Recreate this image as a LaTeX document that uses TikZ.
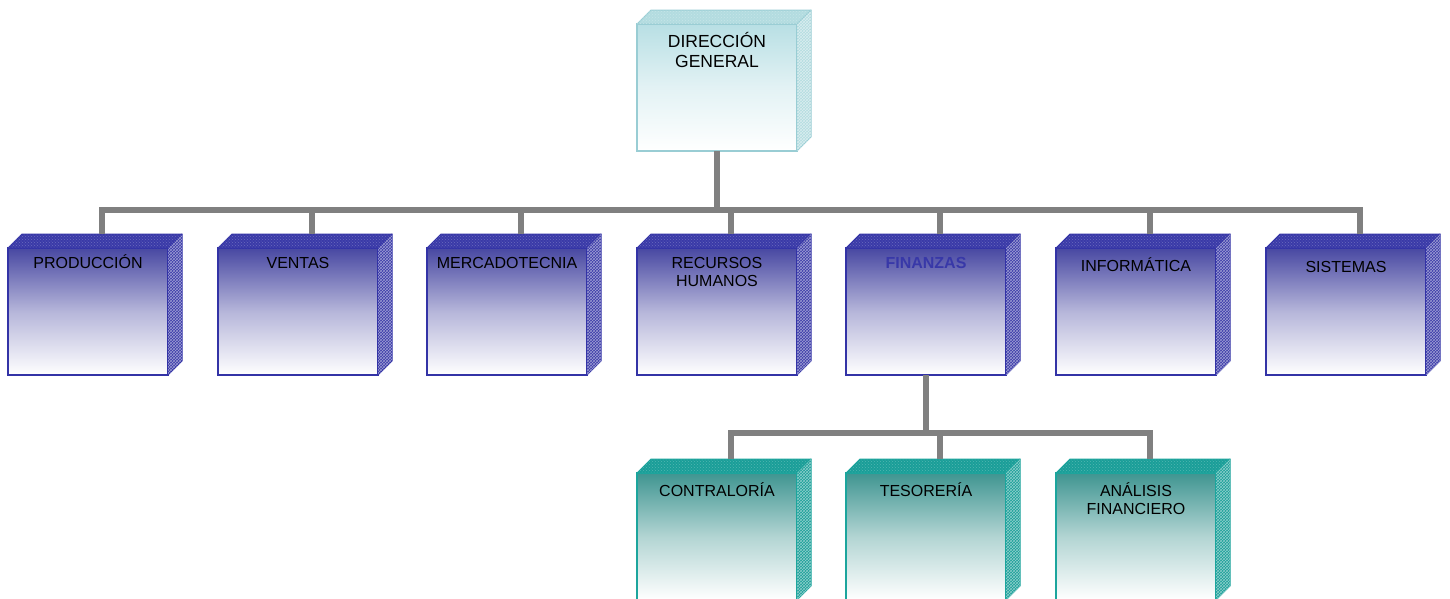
\documentclass[tikz,border=0pt]{standalone}
\usepackage{fontspec}
\setmainfont{Liberation Sans}
\usetikzlibrary{patterns}
\definecolor{bTop}{HTML}{3A3AA8}
\definecolor{bFront}{HTML}{4848A2}
\definecolor{bEdge}{HTML}{3333A6}
\definecolor{cTop}{HTML}{B3DCE0}
\definecolor{cFront}{HTML}{B8DFE4}
\definecolor{cEdge}{HTML}{99CDD4}
\definecolor{tTop}{HTML}{1A9E98}
\definecolor{tFront}{HTML}{3F9591}
\definecolor{tEdge}{HTML}{1CA59D}
\definecolor{connc}{HTML}{808080}
\definecolor{finblue}{HTML}{3838A8}
\newcommand\cubebox[4]{%
  \node[front, top color=#4Front, bottom color=white, middle color=#4Front!40!white, draw=#4Edge, anchor=north west] (#1) at (#2,#3) {};
  \filldraw[fill=#4Top, draw=#4Edge, line width=1pt, line join=round] (#1.north west) -- ++(14,-14) -- ++(160,0) -- (#1.north east) -- cycle;
  \fill[pattern=crosshatch dots, pattern color=#4Top!75!white] (#1.north west) -- ++(14,-14) -- ++(160,0) -- (#1.north east) -- cycle;
  \filldraw[fill=#4Top, draw=#4Edge, line width=1pt, line join=round] (#1.north east) -- ++(14,-14) -- ++(0,127) -- (#1.south east) -- cycle;
  \fill[pattern=crosshatch, pattern color=white!50!#4Top] (#1.north east) -- ++(14,-14) -- ++(0,127) -- (#1.south east) -- cycle;
  \coordinate (#1-top) at ([shift={(14,-14)}]#1.north);
}
\begin{document}
\begin{tikzpicture}[x=1pt,y=-1pt,
  front/.style={rectangle, minimum width=160pt, minimum height=127pt, inner sep=0pt, outer sep=0pt, line width=1.4pt, shading angle=0},
  lbl/.style={font=\fontsize{16}{18}\selectfont, align=center, anchor=base, inner sep=0pt},
  biglbl/.style={font=\fontsize{17.5}{20}\selectfont, align=center, anchor=base, inner sep=0pt},
  connector/.style={draw=connc, line width=5.5pt, line join=miter}]
\clip (0,0) rectangle (1450,598);
\useasboundingbox (0,0) rectangle (1450,598);
% top
\cubebox{dg}{637}{24}{c}
\node[biglbl] (dg-l) at (717,67) {DIRECCIÓN\\GENERAL};
% row 1
\cubebox{prod}{8}{248}{b}
\cubebox{vent}{218}{248}{b}
\cubebox{merc}{427}{248}{b}
\cubebox{rrhh}{637}{248}{b}
\cubebox{fin}{846}{248}{b}
\cubebox{info}{1056}{248}{b}
\cubebox{sist}{1266}{248}{b}
\node[lbl] (prod-l) at (88,268) {PRODUCCIÓN};
\node[lbl] (vent-l) at (298,268) {VENTAS};
\node[lbl] (merc-l) at (507,268) {MERCADOTECNIA};
\node[lbl] (rrhh-l) at (717,286) {RECURSOS\\HUMANOS};
\node[lbl, text=finblue, font=\fontsize{16}{18}\selectfont\bfseries] (fin-l) at (926,268) {FINANZAS};
\node[lbl] (info-l) at (1136,271) {INFORMÁTICA};
\node[lbl] (sist-l) at (1346,272) {SISTEMAS};
% row 2
\cubebox{contra}{637}{473}{t}
\cubebox{teso}{846}{473}{t}
\cubebox{anal}{1056}{473}{t}
\node[lbl] (contra-l) at (717,496) {CONTRALORÍA};
\node[lbl] (teso-l) at (926,496) {TESORERÍA};
\node[lbl] (anal-l) at (1136,514) {ANÁLISIS\\FINANCIERO};
% connectors
\coordinate (bus1) at (717,210);
\draw[connector] (dg.south) -- (bus1);
\foreach \n in {prod,vent,merc,rrhh,fin,info,sist}
  \draw[connector] (bus1) -| (\n-top);
\coordinate (bus2) at (926,433);
\draw[connector] (fin.south) -- (bus2);
\foreach \n in {contra,teso,anal}
  \draw[connector] (bus2) -| (\n-top);
\end{tikzpicture}
\end{document}
